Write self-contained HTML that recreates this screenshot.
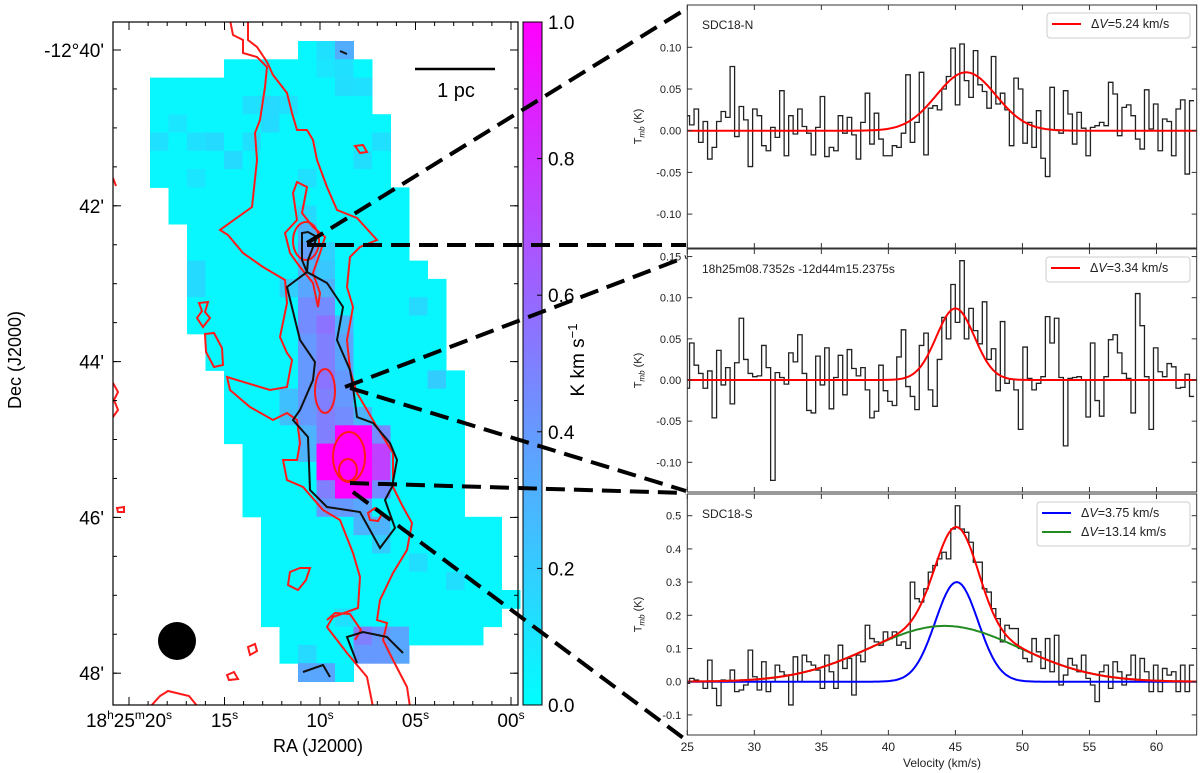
<!DOCTYPE html>
<html><head><meta charset="utf-8"><style>
html,body{margin:0;padding:0;background:#fff;}
svg{display:block;font-family:"Liberation Sans","DejaVu Sans",sans-serif;}
</style></head><body>
<svg id="fig" width="1200" height="773" viewBox="0 0 1200 773" xmlns="http://www.w3.org/2000/svg">
<defs>
<linearGradient id="cool" x1="0" y1="1" x2="0" y2="0"><stop offset="0" stop-color="#00ffff"/><stop offset="1" stop-color="#ff00ff"/></linearGradient>
<clipPath id="mapclip"><rect x="113" y="22" width="405" height="683"/></clipPath>
</defs>
<g id="map"></g>
<g id="contours" clip-path="url(#mapclip)">
<path fill="none" stroke="#ff1a1a" stroke-width="2" d="M230,20 L233,35 243,40 243,53 257,57 267,67 265,87 260,120 255,133 257,160 252,207 220,230 228,235 243,253 263,267 285,280 287,303 280,337 287,353 292,360 287,387 270,390 227,377 230,390 250,407 273,420 287,413 297,420 300,443 297,460 283,460 287,480 303,487 323,510 340,520 353,553 360,577 358,608 333,617 327,627 347,653 367,677 373,707"/>
<path fill="none" stroke="#ff1a1a" stroke-width="2" d="M248,20 L248,40 257,47 267,62 273,75 287,93 292,113 297,130 307,130 313,140 317,160 327,187 337,210 357,218 377,240 360,247 350,257 347,287 353,307 347,340 350,370 357,393 367,410 377,427 393,453 393,487 403,507 412,523 407,550 393,573 380,600 377,620 387,623 383,640 393,660 407,687 410,707"/>
<path fill="none" stroke="#ff1a1a" stroke-width="2" d="M297,182 L307,187 302,213 313,227 325,237 320,253 313,273 320,293 318,307 313,283 300,267 290,253 285,233 297,220 293,193 Z"/>
<ellipse cx="306" cy="241" rx="13" ry="19" fill="none" stroke="#ff1a1a" stroke-width="2"/>
<ellipse cx="325" cy="391" rx="10" ry="22" fill="none" stroke="#ff1a1a" stroke-width="2"/>
<ellipse cx="349" cy="457" rx="16" ry="25" fill="none" stroke="#ff1a1a" stroke-width="2"/>
<ellipse cx="348" cy="470" rx="9" ry="11" fill="none" stroke="#ff1a1a" stroke-width="2"/>
<path fill="none" stroke="#ff1a1a" stroke-width="2" d="M199,303 L208,302 205,312 210,318 203,327 197,318 202,311 Z M205,334 L214,333 222,348 223,365 214,367 206,352 Z M355,146 L363,145 367,152 360,153 Z M288,585 L290,572 300,568 310,568 306,580 298,590 Z M368,513 L375,508 382,514 378,521 370,520 Z M248,647 L255,644 257,651 250,655 Z M227,675 L234,672 238,679 229,680 Z M150,707 L160,696 168,691 189,696 198,707 M113,383 L118,392 114,400 118,410 113,417 M117,508 L124,507 124,512 118,512 Z M113,178 L116,186 M327,620 L335,613 350,614 361,630 355,640"/>
<path fill="none" stroke="#111" stroke-width="2" d="M302,233 L308,232 317,237 308,260 307,272 327,283 343,307 337,340 350,370 353,387 357,417 373,423 390,443 397,460 392,487 385,500 395,528 380,548 360,512 327,507 310,490 308,437 293,420 300,410 313,380 315,362 300,340 287,287 307,272 302,260 Z M357,663 L347,637 363,632 387,637 403,653 M303,672 L323,665 330,677 M340,51 L347,54"/>
</g>
<g>
<rect x="113" y="22" width="405" height="683" fill="none" stroke="#000" stroke-width="1.2"/>
<circle cx="177" cy="641" r="19" fill="#000"/>
<line x1="415" y1="69" x2="495" y2="69" stroke="#000" stroke-width="2.5"/>
<text x="456" y="97" font-size="20" text-anchor="middle">1 pc</text>
</g>
<g id="mapaxes"></g>
<g id="cbar">
<rect x="523" y="22" width="19" height="683" fill="url(#cool)" stroke="#000" stroke-width="1"/>
</g>
<text transform="translate(584 360) rotate(-90)" font-size="19" text-anchor="middle">K km s<tspan dy="-7" font-size="13">−1</tspan></text>
<text transform="translate(21 360) rotate(-90)" font-size="18" text-anchor="middle">Dec (J2000)</text>
<text x="318" y="752" font-size="18" text-anchor="middle">RA (J2000)</text>
<g id="dashes" stroke="#000" stroke-width="4" stroke-dasharray="19,9" fill="none"></g>
<g id="spectra"></g>
</svg>
<script>
// ---------- map data ----------
const rowStart = [8,4,0,0,0,0,0,0,1,1,2,2,2,2,2,2,3,3,4,4,4,4,5,5,5,5,6,6,6,6,6,6,7,7,8];
const rowEnd   = [10,11,11,11,12,12,12,12,13,13,13,13,14,15,15,15,15,15,16,16,16,16,16,16,16,16,18,18,18,18,19,18,17,13,10];
const hotCells = [[0,10,0.32],[0,9,0.12],[1,9,0.1],[1,10,0.12],[2,10,0.13],[2,11,0.12],[3,5,0.12],[3,6,0.15],[3,7,0.12],[4,6,0.14],[4,1,0.1],[5,0,0.12],[5,2,0.12],[5,3,0.14],[5,5,0.12],[5,12,0.12],[6,4,0.14],[6,11,0.13],[7,2,0.1],[7,8,0.12],
 [9,8,0.15],[10,8,0.3],[11,8,0.38],[11,9,0.18],[12,8,0.3],[12,9,0.22],[12,2,0.14],[13,2,0.14],
 [13,7,0.2],[13,8,0.35],[13,9,0.3],[14,8,0.45],[14,9,0.45],[15,8,0.45],[15,9,0.55],[15,10,0.3],[16,8,0.4],[16,9,0.5],[16,10,0.35],
 [17,8,0.4],[17,9,0.5],[17,10,0.35],[18,8,0.4],[18,9,0.55],[18,10,0.4],[19,7,0.25],[19,8,0.4],[19,9,0.5],[19,10,0.4],[20,7,0.25],[20,8,0.4],[20,9,0.5],[20,10,0.45],[20,11,0.3],
 [21,10,1.0],[21,11,1.0],[21,9,0.5],[21,12,0.45],[21,8,0.3],[22,9,1.0],[22,10,1.0],[22,11,1.0],[22,12,0.75],[22,8,0.3],[23,9,1.0],[23,10,1.0],[23,11,1.0],[23,12,0.75],
 [24,9,0.5],[24,10,1.0],[24,11,1.0],[24,12,0.45],[25,9,0.4],[25,10,0.4],[25,11,0.35],[26,11,0.3],[26,12,0.3],[27,12,0.2],
 [14,14,0.15],[18,15,0.2],[28,14,0.13],[29,16,0.13],[31,10,0.12],
 [32,11,0.5],[32,12,0.4],[32,13,0.35],[33,11,0.4],[33,12,0.4],[33,13,0.35],[33,8,0.15],[34,8,0.35],[34,9,0.35],[34,10,0.05]];
const decTicks = ["-12°40'","42'","44'","46'","48'"];
const decTickMin = [40,42,44,46,48];
const raTickSec = [20,15,10,5,0];
const cbarTicks = [0.0,0.2,0.4,0.6,0.8,1.0];

// ---------- spectra data ----------
const vStart = 25.0, vStep = 0.336;
const specN = [0.018,0.007,0.026,-0.014,0.011,-0.034,-0.020,0.011,0.023,0.016,
 0.077,-0.007,0.029,0.013,-0.043,0.026,0.018,-0.018,-0.024,0.004,
 -0.008,0.048,-0.030,0.018,-0.004,0.026,0.005,-0.003,-0.029,0.004,
 0.041,-0.031,-0.020,-0.024,0.018,-0.003,0.016,-0.005,-0.034,0.010,
 0.045,-0.016,0.021,-0.010,-0.030,-0.030,-0.018,-0.020,-0.003,0.067,
 -0.014,0.010,0.070,-0.029,0.027,0.030,0.025,0.050,0.065,0.099,
 0.031,0.104,0.060,0.040,0.096,0.055,0.047,0.027,0.089,0.032,
 0.045,0.025,-0.018,0.063,0.050,-0.015,0.010,-0.020,0.024,-0.033,
 -0.055,0.052,0.001,-0.003,0.048,0.020,-0.016,0.022,0.003,-0.030,
 0.004,0.006,0.010,0.006,0.058,0.044,-0.006,0.028,0.031,0.018,
 -0.010,-0.022,0.049,0.002,0.032,-0.024,0.014,0.011,-0.030,0.026,
 0.037,-0.052,0.036];
const specM = [-0.010,0.045,0.018,0.008,-0.010,0.011,-0.046,0.036,-0.006,0.015,
 -0.029,0.021,0.075,0.025,0.008,0.004,0.005,0.042,0.015,-0.122,
 0.009,0.003,-0.005,0.033,0.022,0.055,0.008,-0.037,-0.040,0.029,
 -0.006,0.039,-0.035,0.003,0.030,-0.018,0.037,0.014,0.005,0.015,
 -0.012,-0.046,-0.038,0.018,-0.013,-0.026,-0.031,0.028,0.061,-0.008,
 -0.020,-0.036,0.042,0.057,-0.012,-0.032,0.025,0.076,0.050,0.116,
 0.070,0.145,0.050,0.087,0.060,0.044,0.095,0.025,0.038,-0.013,
 0.071,-0.004,0.001,-0.012,-0.060,0.040,0.002,-0.012,-0.004,0.004,
 0.077,0.045,0.075,0.003,-0.080,0.002,0.003,0.004,0.000,-0.045,
 0.045,-0.025,-0.044,0.004,0.049,0.055,0.033,0.008,0.002,-0.040,
 0.105,0.066,0.004,-0.060,0.039,0.010,0.004,0.020,0.016,-0.010,
 -0.009,0.007,-0.020];
const specS = [-0.005,0.01,0.005,0.0,-0.02,0.065,-0.02,-0.072,0.005,0.0,
 0.035,-0.03,-0.025,-0.01,0.095,0.015,-0.025,0.06,-0.03,0.0,
 0.05,0.03,0.02,-0.07,0.075,0.0,0.08,0.06,0.05,0.035,
 -0.02,0.08,0.03,-0.02,0.11,0.04,0.07,-0.04,0.08,0.06,
 0.17,0.13,0.12,0.11,0.15,0.13,0.15,0.11,0.12,0.10,
 0.30,0.25,0.24,0.28,0.33,0.35,0.37,0.39,0.37,0.46,
 0.53,0.46,0.45,0.42,0.36,0.36,0.28,0.27,0.22,0.19,
 0.12,0.17,0.16,0.16,0.10,0.07,0.06,0.13,0.09,0.04,
 0.13,0.03,0.14,-0.01,0.02,0.07,0.05,0.03,0.08,0.01,
 -0.01,-0.06,0.03,0.05,-0.02,0.06,0.03,-0.01,0.02,0.08,
 0.0,0.07,0.03,-0.03,0.05,-0.03,0.04,0.02,0.03,-0.03,
 0.05,-0.03,0.05];
const fitN = [0.070, 45.8, 5.24];
const fitM = [0.087, 45.0, 3.34];
const fitS1 = [0.30, 45.1, 3.75];
const fitS2 = [0.168, 44.2, 13.14];
const xTicks = [25,30,35,40,45,50,55,60];
const yTicksN = [0.10,0.05,0.00,-0.05,-0.10];
const yTicksM = [0.15,0.10,0.05,0.00,-0.05,-0.10];
const yTicksS = [0.5,0.4,0.3,0.2,0.1,0.0,-0.1];

const NS='http://www.w3.org/2000/svg';
function mk(tag, attrs, parent){const e=document.createElementNS(NS,tag);for(const k in attrs)e.setAttribute(k,attrs[k]);parent.appendChild(e);return e;}
function cool(v){v=Math.max(0,Math.min(1,v));return `rgb(${Math.round(255*v)},${Math.round(255*(1-v))},255)`;}

// map cells
const mapG=document.getElementById('map');
const cx0=150, cy0=41, cw=18.5, ch=18.3;
const hot={};hotCells.forEach(h=>hot[h[0]+'_'+h[1]]=h[2]);
for(let r=0;r<rowStart.length;r++){
 for(let c=rowStart[r];c<=rowEnd[r];c++){
  const v=hot[r+'_'+c]!==undefined?hot[r+'_'+c]:0.03;
  const e=mk('rect',{x:cx0+c*cw,y:cy0+r*ch,width:cw+0.5,height:ch+0.5,fill:cool(v)},mapG);
  
  
 }
}
// map axes
const ax=document.getElementById('mapaxes');
function decY(m){return 50+(m-40)*77.9;}
function raX(s){return 129+(20-s)*19.1;}
decTicks.forEach((t,i)=>{
 const y=decY(decTickMin[i]);
 mk('line',{x1:113,y1:y,x2:121,y2:y,stroke:'#000'},ax);
 mk('line',{x1:518,y1:y,x2:510,y2:y,stroke:'#000'},ax);
 const e=mk('text',{x:104,y:y+7,'font-size':19,'text-anchor':'end'},ax);e.textContent=t;
 
 
});
for(let m=39.5;m<=48.6;m+=0.5){const y=decY(m);if(y>705||y<22)continue;mk('line',{x1:113,y1:y,x2:117,y2:y,stroke:'#000'},ax);mk('line',{x1:518,y1:y,x2:514,y2:y,stroke:'#000'},ax);}
for(let s=22;s>=0;s-=1){const x=raX(s);if(x<113||x>518)continue;mk('line',{x1:x,y1:705,x2:x,y2:701,stroke:'#000'},ax);mk('line',{x1:x,y1:22,x2:x,y2:26,stroke:'#000'},ax);}
raTickSec.forEach(s=>{
 const x=raX(s);
 mk('line',{x1:x,y1:705,x2:x,y2:697,stroke:'#000'},ax);mk('line',{x1:x,y1:22,x2:x,y2:30,stroke:'#000'},ax);
 const e=mk('text',{x:x,y:727,'font-size':19,'text-anchor':'middle'},ax);
 
 
 const ss=(s<10?'0':'')+s;
 if(s===20){e.innerHTML='18<tspan dy="-8" font-size="12">h</tspan><tspan dy="8">25</tspan><tspan dy="-8" font-size="12">m</tspan><tspan dy="8">20</tspan><tspan dy="-8" font-size="12">s</tspan>';}
 else e.innerHTML=ss+'<tspan dy="-8" font-size="12">s</tspan>';
});
// colorbar
const cb=document.getElementById('cbar');
cbarTicks.forEach(v=>{
 const y=705-v*683;
 mk('line',{x1:542,y1:y,x2:537,y2:y,stroke:'#000'},cb);
 const e=mk('text',{x:548,y:y+7,'font-size':19},cb);e.textContent=v.toFixed(1);
 
 
});
// connector dashes
const dg=document.getElementById('dashes');
[[307,243,686,9],[307,245,686,245],[345,387,686,257],[350,388,686,491],[350,483,686,493],[353,492,686,740]].forEach(l=>{
 const e=mk('line',{x1:l[0],y1:l[1],x2:l[2],y2:l[3]},dg);
 
 
});

// spectra
const sp=document.getElementById('spectra');
const X0=687.3,X1=1196.7;
function xS(v){return X0+(v-25)*(X1-X0)/38;}
function gauss(p,v){return p[0]*Math.exp(-4*Math.LN2*Math.pow((v-p[1])/p[2],2));}
function panel(name,top,bot,yOf,yTicks,data,fits,label,legend,showX){
 const g=mk('g',{},sp);
 
 
 const cid='clip_'+name;
 const cp=mk('clipPath',{id:cid},g);mk('rect',{x:X0,y:top,width:X1-X0,height:bot-top},cp);
 let d='';
 data.forEach((val,i)=>{const v=vStart+i*vStep;const y=yOf(val);d+=(i===0?'M'+xS(v-vStep/2)+','+y:'V'+y)+'H'+xS(v+vStep/2);});
 const h=mk('path',{d:d,fill:'none',stroke:'#222','stroke-width':1.3,'clip-path':`url(#${cid})`},g);
 
 
 fits.forEach(f=>{
  let fd='';for(let v=25;v<=63.01;v+=0.1){fd+=(v===25?'M':'L')+xS(v).toFixed(1)+','+yOf(f.fn(v)).toFixed(1);}
  const p=mk('path',{d:fd,fill:'none',stroke:f.color,'stroke-width':2,'clip-path':`url(#${cid})`},g);
  
  
 });
 mk('rect',{x:X0,y:top,width:X1-X0,height:bot-top,fill:'none',stroke:'#333','stroke-width':1},g);
 xTicks.forEach(v=>{const x=xS(v);mk('line',{x1:x,y1:bot,x2:x,y2:bot-5,stroke:'#333'},g);mk('line',{x1:x,y1:top,x2:x,y2:top+5,stroke:'#333'},g);
  if(showX){const e=mk('text',{x:x,y:bot+16,'font-size':12,'text-anchor':'middle',fill:'#222'},g);e.textContent=v;
   
   }});
 yTicks.forEach(v=>{const y=yOf(v);if(y<top-1||y>bot+1)return;mk('line',{x1:X0,y1:y,x2:X0+5,y2:y,stroke:'#333'},g);mk('line',{x1:X1,y1:y,x2:X1-5,y2:y,stroke:'#333'},g);
  const e=mk('text',{x:X0-6,y:y+4,'font-size':11,'text-anchor':'end',fill:'#222'},g);e.textContent=(Math.abs(v)<1e-9?(yTicks[0]<0.2?'0.00':'0.0'):(yTicks[0]<0.2?v.toFixed(2):v.toFixed(1)));
  
  });
 const yl=mk('text',{transform:`translate(${X0-46} ${(top+bot)/2}) rotate(-90)`,'font-size':11,'text-anchor':'middle',fill:'#222'},g);
 yl.innerHTML='T<tspan dy="3" font-size="8" font-style="italic">mb</tspan><tspan dy="-3"> (K)</tspan>';
 
 
 const lt=mk('text',{x:702,y:top+24,'font-size':12,fill:'#222'},g);lt.textContent=label;
 
 
 const lg=mk('g',{},g);
 
 
 mk('rect',{x:legend.x,y:top+legend.dy,width:1190-legend.x,height:legend.items.length*19+6,fill:'#fff',stroke:'#ccc',rx:3},lg);
 legend.items.forEach((it,i)=>{const y=top+legend.dy+15+i*19;
  mk('line',{x1:legend.x+5,y1:y-4,x2:legend.x+34,y2:y-4,stroke:it[0],'stroke-width':2},lg);
  const e=mk('text',{x:legend.x+44,y:y,'font-size':12.5,fill:'#222'},lg);
  e.innerHTML='Δ<tspan font-style="italic">V</tspan>='+it[1]+' km/s';
  
  });
}
panel('panel-sdc18-n',5,248,v=>130.7-v*834,yTicksN,specN,
 [{name:'gaussian-fit',color:'#ff0000',fn:v=>gauss(fitN,v)}],'SDC18-N',{x:1047,dy:8,items:[['#ff0000','5.24']]},false);
panel('panel-middle',249,492,v=>380-v*823,yTicksM,specM,
 [{name:'gaussian-fit',color:'#ff0000',fn:v=>gauss(fitM,v)}],'18h25m08.7352s -12d44m15.2375s',{x:1046,dy:8,items:[['#ff0000','3.34']]},false);
panel('panel-sdc18-s',494,735,v=>681.7-v*332,yTicksS,specS,
 [{name:'narrow-component-fit',color:'#0000ff',fn:v=>gauss(fitS1,v)},
  {name:'broad-component-fit',color:'#228B22',fn:v=>gauss(fitS2,v)},
  {name:'total-fit',color:'#ff0000',fn:v=>gauss(fitS1,v)+gauss(fitS2,v)}],'SDC18-S',{x:1037,dy:8,items:[['#0000ff','3.75'],['#228B22','13.14']]},true);
const xl=mk('text',{x:942,y:767,'font-size':12,'text-anchor':'middle',fill:'#222'},sp);
xl.textContent='Velocity (km/s)';


</script>
</body></html>
